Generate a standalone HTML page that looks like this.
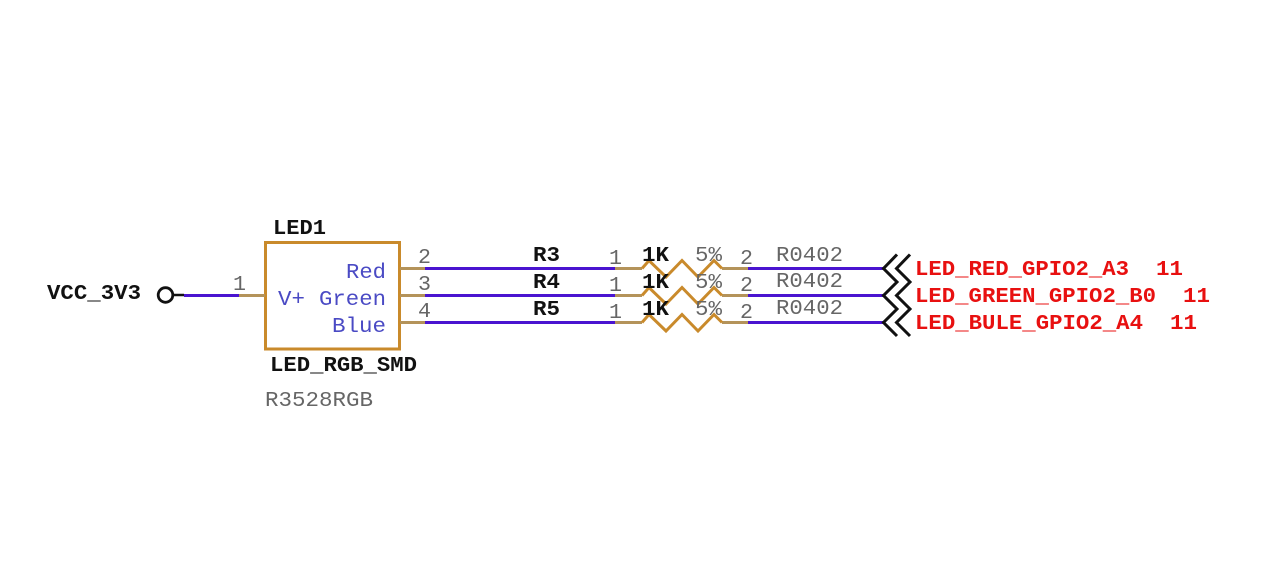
<!DOCTYPE html>
<html>
<head>
<meta charset="utf-8">
<style>
html,body{margin:0;padding:0;background:#fff;width:1274px;height:565px;overflow:hidden}
svg{display:block}
text{font-family:"Liberation Mono",monospace;font-size:21px}
.b{font-weight:bold;fill:#111}
.g{fill:#666}
.t{fill:#4a4ac4}
.r{font-weight:bold;fill:#e81010}
</style>
</head>
<body>
<svg width="1274" height="565" viewBox="0 0 1274 565" xmlns="http://www.w3.org/2000/svg">
<rect width="1274" height="565" fill="#fff"/>
<g fill="none" stroke-linejoin="miter">
<rect x="265.500" y="242.500" width="134" height="106.500" stroke="#c98a2b" stroke-width="3"/>
<circle cx="165.500" cy="295" r="7.300" stroke="#111" stroke-width="2.800"/>
<path d="M173 295H184" stroke="#111" stroke-width="2.500"/>
<path d="M184 295.500H239" stroke="#4a14d0" stroke-width="3"/>
<g stroke="#b4935a" stroke-width="3">
<path d="M239 295.500H265M400 268.500H425M400 295.500H425M400 322.500H425"/>
<path d="M615 268.500H642M722 268.500H748M615 295.500H642M722 295.500H748M615 322.500H642M722 322.500H748"/>
</g>
<g stroke="#4a14d0" stroke-width="3">
<path d="M425 268.500H615M748 268.500H884M425 295.500H615M748 295.500H884M425 322.500H615M748 322.500H884"/>
</g>
<g stroke="#c98a2b" stroke-width="3">
<path d="M642 268.500L649 260.500L666 277L682 260.500L698 277L714 260.500L722 268.500"/>
<path d="M642 295.500L649 287.500L666 304L682 287.500L698 304L714 287.500L722 295.500"/>
<path d="M642 322.500L649 314.500L666 331L682 314.500L698 331L714 314.500L722 322.500"/>
</g>
<g stroke="#111" stroke-width="3">
<path d="M897 254.500L883.500 268.500L897 282L883.500 295.500L897 309L883.500 322.500L897 336"/>
<path d="M910 254.500L896.500 268.500L910 282L896.500 295.500L910 309L896.500 322.500L910 336"/>
</g>
</g>
<g>
<text class="b" x="47" y="299" textLength="94" lengthAdjust="spacingAndGlyphs">VCC_3V3</text>
<text class="g" x="233" y="290" textLength="13" lengthAdjust="spacingAndGlyphs">1</text>
<text class="b" x="273" y="234" textLength="53" lengthAdjust="spacingAndGlyphs">LED1</text>
<text class="b" x="270" y="371" textLength="147" lengthAdjust="spacingAndGlyphs">LED_RGB_SMD</text>
<text class="g" x="265" y="406" textLength="108" lengthAdjust="spacingAndGlyphs">R3528RGB</text>
<text class="t" x="346" y="278" textLength="40" lengthAdjust="spacingAndGlyphs">Red</text>
<text class="t" x="278" y="305" textLength="27" lengthAdjust="spacingAndGlyphs">V+</text>
<text class="t" x="319" y="305" textLength="67" lengthAdjust="spacingAndGlyphs">Green</text>
<text class="t" x="332" y="332" textLength="54" lengthAdjust="spacingAndGlyphs">Blue</text>

<text class="g" x="418" y="263" textLength="13" lengthAdjust="spacingAndGlyphs">2</text>
<text class="g" x="418" y="290" textLength="13" lengthAdjust="spacingAndGlyphs">3</text>
<text class="g" x="418" y="317" textLength="13" lengthAdjust="spacingAndGlyphs">4</text>

<text class="b" x="533" y="261" textLength="27" lengthAdjust="spacingAndGlyphs">R3</text>
<text class="b" x="533" y="288" textLength="27" lengthAdjust="spacingAndGlyphs">R4</text>
<text class="b" x="533" y="315" textLength="27" lengthAdjust="spacingAndGlyphs">R5</text>

<text class="g" x="609" y="264" textLength="13" lengthAdjust="spacingAndGlyphs">1</text>
<text class="g" x="609" y="291" textLength="13" lengthAdjust="spacingAndGlyphs">1</text>
<text class="g" x="609" y="318" textLength="13" lengthAdjust="spacingAndGlyphs">1</text>

<text class="b" x="642" y="261" textLength="27" lengthAdjust="spacingAndGlyphs">1K</text>
<text class="b" x="642" y="288" textLength="27" lengthAdjust="spacingAndGlyphs">1K</text>
<text class="b" x="642" y="315" textLength="27" lengthAdjust="spacingAndGlyphs">1K</text>

<text class="g" x="695" y="261" textLength="27" lengthAdjust="spacingAndGlyphs">5%</text>
<text class="g" x="695" y="288" textLength="27" lengthAdjust="spacingAndGlyphs">5%</text>
<text class="g" x="695" y="315" textLength="27" lengthAdjust="spacingAndGlyphs">5%</text>

<text class="g" x="740" y="264" textLength="13" lengthAdjust="spacingAndGlyphs">2</text>
<text class="g" x="740" y="291" textLength="13" lengthAdjust="spacingAndGlyphs">2</text>
<text class="g" x="740" y="318" textLength="13" lengthAdjust="spacingAndGlyphs">2</text>

<text class="g" x="776" y="261" textLength="67" lengthAdjust="spacingAndGlyphs">R0402</text>
<text class="g" x="776" y="287" textLength="67" lengthAdjust="spacingAndGlyphs">R0402</text>
<text class="g" x="776" y="314" textLength="67" lengthAdjust="spacingAndGlyphs">R0402</text>

<text class="r" x="915" y="275" textLength="214" lengthAdjust="spacingAndGlyphs">LED_RED_GPIO2_A3</text>
<text class="r" x="1156" y="275" textLength="27" lengthAdjust="spacingAndGlyphs">11</text>
<text class="r" x="915" y="302" textLength="241" lengthAdjust="spacingAndGlyphs">LED_GREEN_GPIO2_B0</text>
<text class="r" x="1183" y="302" textLength="27" lengthAdjust="spacingAndGlyphs">11</text>
<text class="r" x="915" y="329" textLength="228" lengthAdjust="spacingAndGlyphs">LED_BULE_GPIO2_A4</text>
<text class="r" x="1170" y="329" textLength="27" lengthAdjust="spacingAndGlyphs">11</text>
</g>
</svg>
</body>
</html>
